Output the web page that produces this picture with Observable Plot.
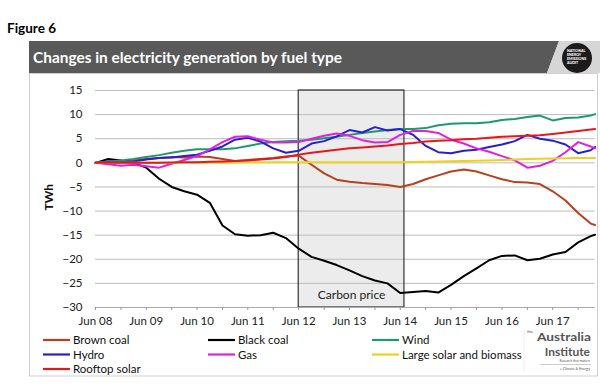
<!DOCTYPE html>
<html><head><meta charset="utf-8">
<script src="https://cdn.jsdelivr.net/npm/d3@7"></script>
<script src="https://cdn.jsdelivr.net/npm/@observablehq/plot@0.6"></script>
<style>
body{margin:0;background:#fff;font-family:Lato,"Open Sans",sans-serif;}
#wrap{position:relative;width:600px;height:392px;overflow:hidden;}
#wrap > *{position:absolute;left:0;top:0;}
</style></head><body><div id="wrap"></div>
<script>
// ---- data (quarterly readings, TWh change since Jun 2008) ----
const dates = ["2008-06-01","2008-09-01","2008-12-01","2009-03-01","2009-06-01","2009-09-01","2009-12-01","2010-03-01",
"2010-06-01","2010-09-01","2010-12-01","2011-03-01","2011-06-01","2011-09-01","2011-12-01","2012-03-01",
"2012-06-01","2012-09-01","2012-12-01","2013-03-01","2013-06-01","2013-09-01","2013-12-01","2014-03-01",
"2014-06-01","2014-09-01","2014-12-01","2015-03-01","2015-06-01","2015-09-01","2015-12-01","2016-03-01",
"2016-06-01","2016-09-01","2016-12-01","2017-03-01","2017-06-01","2017-09-01","2017-12-01","2018-03-01","2018-04-01"];
const brownCoal = [0,0.3,0.3,0.5,0.8,1.0,1.2,1.1,1.3,1.2,0.8,0.4,0.6,0.8,1.0,1.3,1.5,-0.4,-2.2,-3.5,-3.9,-4.2,-4.4,-4.6,-5.0,-4.4,-3.4,-2.6,-1.8,-1.4,-1.8,-2.6,-3.4,-4.0,-4.1,-4.4,-5.9,-7.8,-10.4,-12.6,-12.9];
const blackCoal = [0,0.8,0.5,0,-1.0,-3.3,-5.0,-5.9,-6.6,-8.3,-13.0,-14.8,-15.1,-15.0,-14.5,-15.6,-17.8,-19.5,-20.3,-21.2,-22.3,-23.5,-24.4,-25.0,-27.0,-26.8,-26.6,-26.9,-25.3,-23.5,-21.9,-20.2,-19.3,-19.2,-20.2,-19.9,-19.0,-18.5,-16.5,-15.2,-14.9];
const wind = [0,0.3,0.5,0.8,1.2,1.6,2.1,2.5,2.8,2.8,2.8,3.0,3.5,4.0,4.3,4.5,4.6,4.8,5.1,5.4,5.8,6.2,6.5,6.8,7.0,7.0,7.2,7.8,8.1,8.2,8.2,8.4,8.9,9.1,9.5,9.8,8.8,9.3,9.4,9.8,10.1];
const hydro = [0,0.2,0.1,0.3,0.7,1.0,1.1,1.4,1.7,2.5,3.4,4.8,5.2,4.4,3.0,2.1,2.5,4.0,4.5,5.5,6.8,6.3,7.4,6.7,7.0,5.8,3.5,2.2,2.0,2.5,2.7,3.3,3.8,4.5,5.8,5.0,4.6,3.8,2.0,2.6,3.3];
const gas = [0,-0.3,-0.6,-0.4,-0.7,-1.0,-0.2,0.6,1.4,2.8,4.3,5.4,5.5,4.8,4.2,4.2,4.3,5.0,5.6,6.1,5.6,4.7,4.2,4.3,5.8,6.6,6.6,6.2,4.8,4.0,3.0,2.3,1.4,0.5,-1.0,-0.6,0.4,2.2,4.3,3.4,3.0];
const largeSolar = [0,0,0,0,0,0,0,0,0,0,0,0.05,0.1,0.1,0.1,0.1,0.1,0.1,0.1,0.1,0.1,0.1,0.1,0.1,0.1,0.15,0.2,0.3,0.35,0.4,0.45,0.5,0.6,0.7,0.8,0.85,0.9,0.95,1.0,1.0,1.0];
const rooftopSolar = [0,0,0,0,0,0,0.05,0.1,0.1,0.2,0.3,0.4,0.5,0.7,0.9,1.2,1.7,2.1,2.4,2.7,3.0,3.2,3.4,3.6,3.9,4.1,4.4,4.6,4.7,4.9,5.0,5.2,5.4,5.5,5.6,5.7,6.0,6.3,6.6,6.9,7.0];

const seriesNames = ["Brown coal","Black coal","Wind","Hydro","Gas","Large solar and biomass","Rooftop solar"];
const seriesColors = ["#b9401e","#000000","#1d9a6c","#2a1fcf","#e022e0","#f0cf1e","#e8171d"];
const yTicks = [-30,-25,-20,-15,-10,-5,0,5,10,15];
const xTickLabels = ["Jun 08","Jun 09","Jun 10","Jun 11","Jun 12","Jun 13","Jun 14","Jun 15","Jun 16","Jun 17"];
const carbonPrice = [{start:"2012-06-01", end:"2014-07-01", label:"Carbon price"}];
const figureLabel = "Figure 6";
const title = "Changes in electricity generation by fuel type";
const yLabel = "TWh";

// ---- build ----
const parse = d3.utcParse("%Y-%m-%d");
const values = [brownCoal, blackCoal, wind, hydro, gas, largeSolar, rooftopSolar];
const rows = seriesNames.flatMap((name,i)=>dates.map((d,j)=>({date:parse(d), value:values[i][j], series:name})));
const labelTicks = xTickLabels.map((_,i)=>new Date(Date.UTC(2008+i,5,1)));
const halfTicks = d3.range(2008,2018).flatMap(y=>[new Date(Date.UTC(y,5,1)), new Date(Date.UTC(y,11,1))]);

const wrap = document.getElementById("wrap");
const NS = "http://www.w3.org/2000/svg";

// background: figure label, banner, panel
const bg = document.createElementNS(NS,"svg");
bg.setAttribute("width",600); bg.setAttribute("height",392);
bg.innerHTML = `
 <text x="7" y="33" font-family="Lato" font-weight="700" font-size="13.5" fill="#000">${figureLabel}</text>
 <rect x="29.5" y="73.5" width="568" height="302.5" fill="#fff" stroke="#cfcfcf"/>
 <polygon points="29,41 559,41 547,73 29,73" fill="#595959"/>
 <polygon points="559,41 600,41 600,73 547,73" fill="#d6d6d6"/>
 <circle cx="577" cy="58" r="15" fill="#1c1a1a"/>
 <g font-family="Lato" font-weight="900" font-size="3.6" fill="#fff">
  <text x="567" y="52">NATIONAL</text><text x="567" y="56">ENERGY</text>
  <text x="567" y="60">EMISSIONS</text><text x="567" y="64">AUDIT</text></g>
 <text x="33" y="63" font-family="Lato" font-weight="700" font-size="15" fill="#fff" textLength="309" lengthAdjust="spacingAndGlyphs">${title}</text>
 <g font-family="Lato" fill="#555" text-anchor="end">
  <text x="527" y="333" font-size="4.5" text-anchor="start">the</text>
  <text x="591" y="341" font-size="12" font-weight="700" textLength="54" lengthAdjust="spacingAndGlyphs">Australia</text>
  <text x="590" y="356" font-size="12" font-weight="700">Institute</text>
  <text x="590" y="362.3" font-size="3.2">Research that matters</text>
  <line x1="540" x2="591" y1="364.5" y2="364.5" stroke="#aaa" stroke-width="0.6"/>
  <text x="590" y="369.5" font-size="3.6">+ Climate &amp; Energy</text>
 </g>
 <line x1="524" x2="524" y1="328" y2="372" stroke="#eee"/>
`;
wrap.appendChild(bg);

const chart = Plot.plot({
  width:600, height:392,
  marginLeft:95, marginRight:5.5, marginTop:90, marginBottom:85,
  style:{fontFamily:"Lato, sans-serif", fontSize:"11px", color:"#222", background:"transparent", overflow:"visible"},
  x:{type:"utc", domain:[parse(dates[0]), parse(dates[dates.length-1])]},
  y:{domain:[-30,15]},
  color:{domain:seriesNames, range:seriesColors},
  marks:[
    Plot.rect(carbonPrice,{x1:d=>parse(d.start), x2:d=>parse(d.end), y1:-30, y2:15, fill:"#ececec"}),
    Plot.ruleY(yTicks,{stroke:"#bcbcbc", strokeWidth:1}),
    Plot.rect(carbonPrice,{x1:d=>parse(d.start), x2:d=>parse(d.end), y1:-30, y2:15, fill:"none", stroke:"#333", strokeWidth:1.2}),
    Plot.text(carbonPrice,{x:d=>new Date((+parse(d.start)+ +parse(d.end))/2), y:-27.4, text:"label", fontSize:12, fill:"#222"}),
    Plot.line(rows,{x:"date", y:"value", z:"series", stroke:"series", strokeWidth:2, strokeLinejoin:"round"}),
    Plot.axisY({ticks:yTicks, tickSize:0, tickPadding:13, label:null, fontSize:11.5}),
    Plot.ruleY([-30],{stroke:"#aaa"}),
    Plot.axisX({ticks:halfTicks, tickSize:3, tickFormat:()=>"", stroke:"#999", label:null}),
    Plot.axisX({ticks:labelTicks, tickSize:0, tickPadding:9, fontSize:11.5, label:null,
      tickFormat:d=>xTickLabels[labelTicks.findIndex(t=>+t===+d)]})
  ]
});
wrap.appendChild(chart);

// y label
const yl = document.createElement("div");
yl.textContent = yLabel;
yl.style.cssText = "left:36px;top:191px;width:24px;text-align:center;font:700 12px Lato;color:#111;transform:rotate(-90deg);";
wrap.appendChild(yl);

// legend
const leg = document.createElementNS(NS,"svg");
leg.setAttribute("width",600); leg.setAttribute("height",392);
const cols = [43,208,372], rowsY = [340,354.5,369];
seriesNames.forEach((name,i)=>{
  const cx = cols[i%3], cy = rowsY[Math.floor(i/3)];
  leg.innerHTML += `<line x1="${cx}" x2="${cx+27}" y1="${cy}" y2="${cy}" stroke="${seriesColors[i]}" stroke-width="2.2"/>
  <text x="${cx+30}" y="${cy+4}" font-family="Lato" font-size="11.5" fill="#111">${name}</text>`;
});
wrap.appendChild(leg);
</script></body></html>
